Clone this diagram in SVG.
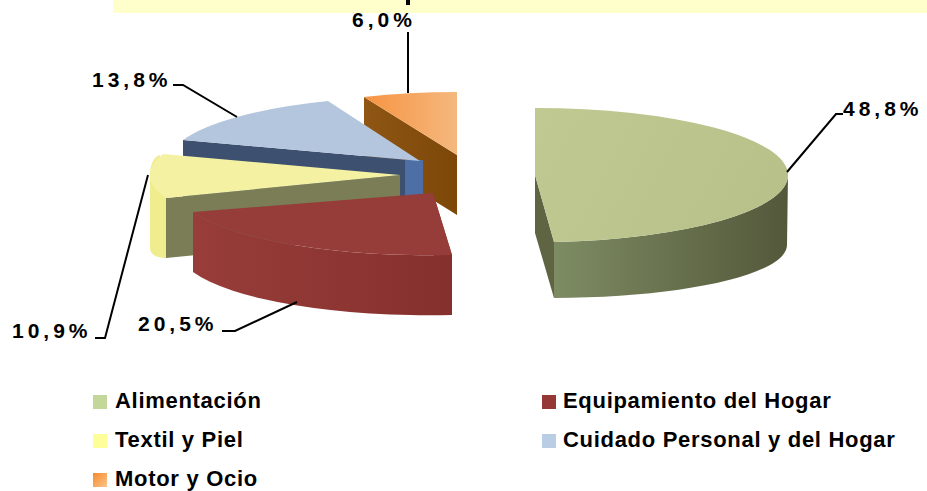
<svg xmlns="http://www.w3.org/2000/svg" width="927" height="491" viewBox="0 0 927 491">
<defs>
<style>
.lbl{font-family:"Liberation Sans",Arial,sans-serif;font-weight:bold;font-size:21px;letter-spacing:4px;fill:#000}
.leg{font-family:"Liberation Sans",Arial,sans-serif;font-weight:bold;font-size:22px;letter-spacing:0.7px;fill:#000}
.lead{fill:none;stroke:#000;stroke-width:2}
</style>
<linearGradient id="gSide" gradientUnits="userSpaceOnUse" x1="553" y1="0" x2="787" y2="0">
<stop offset="0" stop-color="#7e8c63"/><stop offset="1" stop-color="#53583a"/></linearGradient>
<linearGradient id="gTop" gradientUnits="userSpaceOnUse" x1="535" y1="108" x2="788" y2="240">
<stop offset="0" stop-color="#c0c992"/><stop offset="1" stop-color="#b6c088"/></linearGradient>
<linearGradient id="oTop" gradientUnits="userSpaceOnUse" x1="364" y1="0" x2="457" y2="0">
<stop offset="0" stop-color="#f79442"/><stop offset="1" stop-color="#f4b87e"/></linearGradient>
<linearGradient id="oSide" gradientUnits="userSpaceOnUse" x1="364" y1="0" x2="457" y2="0">
<stop offset="0" stop-color="#8f5614"/><stop offset="1" stop-color="#7c4708"/></linearGradient>
<linearGradient id="rSide" gradientUnits="userSpaceOnUse" x1="193" y1="0" x2="452" y2="0">
<stop offset="0" stop-color="#983d39"/><stop offset="1" stop-color="#85302d"/></linearGradient>
<linearGradient id="legO" x1="0" y1="0" x2="1" y2="1">
<stop offset="0" stop-color="#f58a2a"/><stop offset="1" stop-color="#fbc58e"/></linearGradient>
</defs>
<rect width="927" height="491" fill="#fff"/>

<g id="labels-top">
<text class="lbl" x="352" y="27">6,0%</text>
</g>
<g id="title-bar">
<rect x="113" y="0" width="814" height="13" fill="#ffffcc"/>
<rect x="406" y="0" width="4" height="5" fill="#000"/>
</g>

<g id="slice-alimentacion">
<polygon points="535,175 554,242 554,298 535,233" fill="#5f6543"/>
<path d="M788,175 A253,67 0 0 1 554,242 L554,298 C680,298 787,275 787,245 Z" fill="url(#gSide)"/>
<path d="M535,175 L535,108 A253,67 0 0 1 788,175 A253,67 0 0 1 554,242 Z" fill="url(#gTop)"/>
</g>

<g id="slice-motor">
<polygon points="364,97 457,155 457,215 364,157" fill="url(#oSide)"/>
<path d="M457,155 L457,92 A250,65 0 0 0 364,97 Z" fill="url(#oTop)"/>
</g>

<g id="slice-cuidado">
<polygon points="183,140 420,161 420,221 183,200" fill="#3e5070"/>
<polygon points="405,160 423,160 423,200 405,200" fill="#4e6ea6"/>
<path d="M420,161 L328,101 A250,65 0 0 0 183,140 Z" fill="#b3c6de"/>
</g>

<g id="slice-textil">
<path d="M160,155 C152,158 150,166 150,178 L150,248 C150,254 156,258 166,258 L166,198 Z" fill="#efed8e"/>
<polygon points="166,198 400,175 400,235 166,258" fill="#7a7d56"/>
<path d="M400,175 L163,154 A250,65 0 0 0 166,198 Z" fill="#f4f2a2"/>
</g>

<g id="slice-equipamiento">
<polygon points="433,193 452,255 452,315 433,253" fill="#8c3531"/>
<path d="M193,212 A250,65 0 0 0 452,255 L452,315 A250,65 0 0 1 193,272 Z" fill="url(#rSide)"/>
<path d="M433,193 L193,212 A250,65 0 0 0 452,255 Z" fill="#963d39"/>
</g>

<g id="connectors">
<polyline class="lead" points="408,32 408,93"/>
<polyline class="lead" points="843,114 836,114 787,172"/>
<polyline class="lead" points="173,85 183,85 237,117"/>
<polyline class="lead" points="95,338 105,338 148,175"/>
<polyline class="lead" points="222,331 235,331 297,302"/>
</g>

<g id="labels">
<text class="lbl" x="843" y="116">48,8%</text>
<text class="lbl" x="92" y="87">13,8%</text>
<text class="lbl" x="12" y="338">10,9%</text>
<text class="lbl" x="138" y="331">20,5%</text>
</g>

<g id="legend">
<g id="leg-alimentacion"><rect x="93" y="395" width="14" height="14" fill="#c4d79b"/><text class="leg" x="115" y="408">Alimentación</text></g>
<g id="leg-equipamiento"><rect x="542" y="395" width="14" height="14" fill="#953735"/><text class="leg" x="563" y="408">Equipamiento del Hogar</text></g>
<g id="leg-textil"><rect x="93" y="434" width="14" height="14" fill="#ffff99"/><text class="leg" x="115" y="447">Textil y Piel</text></g>
<g id="leg-cuidado"><rect x="542" y="434" width="14" height="14" fill="#b9cde5"/><text class="leg" x="563" y="447">Cuidado Personal y del Hogar</text></g>
<g id="leg-motor"><rect x="93" y="473" width="14" height="14" fill="url(#legO)"/><text class="leg" x="115" y="486">Motor y Ocio</text></g>
</g>
</svg>
